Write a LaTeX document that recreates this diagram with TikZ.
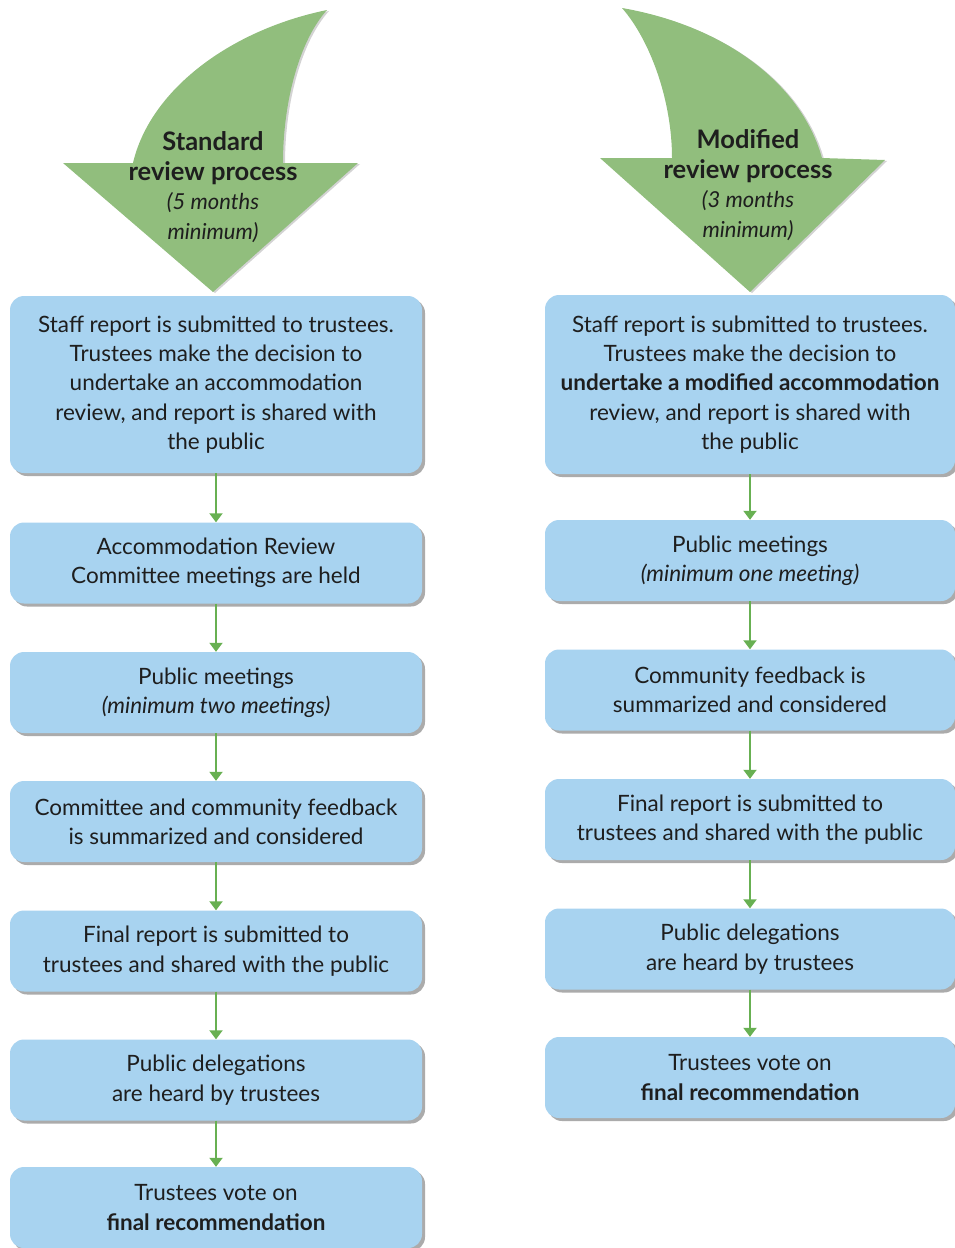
\documentclass[tikz,border=0pt]{standalone}
\usepackage{fontspec}
\setmainfont{Lato}
\usetikzlibrary{arrows.meta, shadows}

\definecolor{boxblue}{RGB}{168,211,240}
\definecolor{arrowgreen}{RGB}{145,190,125}
\definecolor{linkgreen}{RGB}{104,176,82}
\definecolor{inkdark}{RGB}{30,30,30}

\newcommand{\headbold}[1]{{\fontsize{25.5}{29.5}\selectfont\bfseries #1}}

\tikzset{
  stepbox/.style={rectangle, rounded corners=14pt, fill=boxblue, text=inkdark,
    minimum width=412pt, minimum height=81pt, align=center,
    font=\fontsize{22.5}{29.3}\selectfont,
    drop shadow={shadow xshift=3pt, shadow yshift=-3pt, fill=black!60, opacity=0.55}},
  link/.style={draw=linkgreen, line width=2pt, -{Triangle[length=9pt,width=13pt]}},
  headtext/.style={align=center, text=inkdark, font=\fontsize{22}{29.5}\selectfont},
}

\begin{document}
\begin{tikzpicture}[x=1pt, y=-1pt]
        \useasboundingbox (0,0) rectangle (955,1248);

        % curved arrows on top
        \fill[arrowgreen, drop shadow={shadow xshift=2pt, shadow yshift=-1pt, fill=black!50, opacity=0.35}]
          (327,10) .. controls (300,40) and (283,100) .. (283,163) -- (358,163) -- (213,292)
          -- (63,163) -- (133,163) .. controls (150,90) and (230,30) .. (327,10) -- cycle;
        \fill[arrowgreen, drop shadow={shadow xshift=2pt, shadow yshift=-1pt, fill=black!50, opacity=0.35}]
          (622,8) .. controls (720,25) and (800,80) .. (822,158) -- (885,160) -- (750,292)
          -- (600,158) -- (672,158) .. controls (672,100) and (650,40) .. (622,8) -- cycle;

        \node[headtext] (stdhead) at (213,187) {\headbold{Standard}\\\headbold{review process}\\\textit{(5 months}\\\textit{minimum)}};
        \node[headtext] (modhead) at (748,185) {\headbold{Modified}\\\headbold{review process}\\\textit{(3 months}\\\textit{minimum)}};

        % standard review
        \node[stepbox, minimum height=177pt] (s1) at (216,384.5) {Staff report is submitted to trustees.\\Trustees make the decision to\\undertake an accommodation\\review, and report is shared with\\the public};
        \node[stepbox] (s2) at (216,563) {Accommodation Review\\Committee meetings are held};
        \node[stepbox] (s3) at (216,692.5) {Public meetings\\\textit{(minimum two meetings)}};
        \node[stepbox] (s4) at (216,821.5) {Committee and community feedback\\is summarized and considered};
        \node[stepbox] (s5) at (216,951) {Final report is submitted to\\trustees and shared with the public};
        \node[stepbox] (s6) at (216,1080) {Public delegations\\are heard by trustees};
        \node[stepbox] (s7) at (216,1207.5) {Trustees vote on\\\textbf{final recommendation}};

        % modified review
        \node[stepbox, minimum width=410pt, minimum height=179pt] (m1) at (750,384.5) {Staff report is submitted to trustees.\\Trustees make the decision to\\\textbf{undertake a modified accommodation}\\review, and report is shared with\\the public};
        \node[stepbox, minimum width=410pt] (m2) at (750,560.5) {Public meetings\\\textit{(minimum one meeting)}};
        \node[stepbox, minimum width=410pt] (m3) at (750,690) {Community feedback is\\summarized and considered};
        \node[stepbox, minimum width=410pt] (m4) at (750,819.5) {Final report is submitted to\\trustees and shared with the public};
        \node[stepbox, minimum width=410pt] (m5) at (750,949) {Public delegations\\are heard by trustees};
        \node[stepbox, minimum width=410pt] (m6) at (750,1077.5) {Trustees vote on\\\textbf{final recommendation}};

        \draw[link] (s1) -- (s2);
        \draw[link] (s2) -- (s3);
        \draw[link] (s3) -- (s4);
        \draw[link] (s4) -- (s5);
        \draw[link] (s5) -- (s6);
        \draw[link] (s6) -- (s7);

        \draw[link] (m1) -- (m2);
        \draw[link] (m2) -- (m3);
        \draw[link] (m3) -- (m4);
        \draw[link] (m4) -- (m5);
        \draw[link] (m5) -- (m6);
      \end{tikzpicture}
\end{document}
